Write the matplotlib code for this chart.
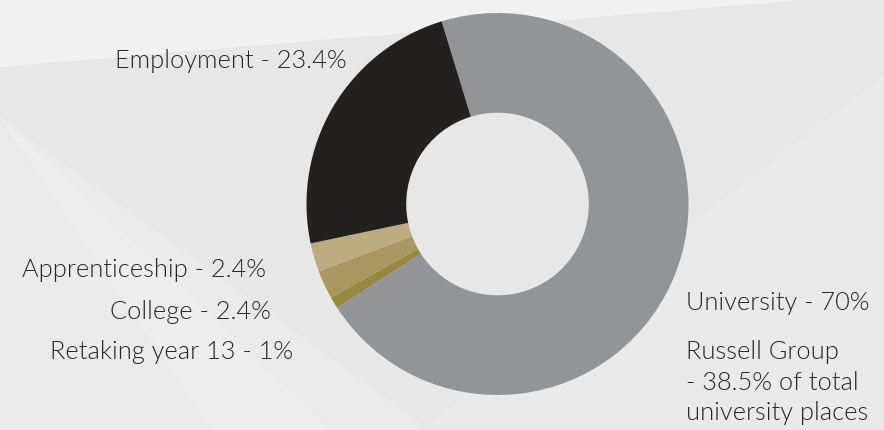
import matplotlib.pyplot as plt
from matplotlib.patches import Polygon

# ── Data ─────────────────────────────────────────────────────────────────────
categories = ['University', 'Retaking year 13', 'College', 'Apprenticeship', 'Employment']
shares = [70, 1, 2.4, 2.4, 23.4]
colors = ['#939496', '#978840', '#a99762', '#bbac80', '#22211f']

labels_left = ['Employment - 23.4%', 'Apprenticeship - 2.4%',
               'College - 2.4%', 'Retaking year 13 - 1%']
labels_right = ['University - 70%',
                'Russell Group\n- 38.5% of total\nuniversity places']

W, H = 884, 430
plt.rcParams['font.family'] = ['Lato', 'DejaVu Sans']

fig = plt.figure(figsize=(W / 100, H / 100), dpi=100)
fig.patch.set_facecolor('#e6e7e6')

# background facets (pixel coordinates)
bg = fig.add_axes([0, 0, 1, 1], zorder=0)
bg.set_xlim(0, W); bg.set_ylim(H, 0); bg.axis('off')
facets = [
    ([(0, 0), (W, 0), (800, 0), (0, 67)], '#f0f1f0'),
    ([(0, 117), (430, H), (0, H)], '#eaeaea'),
    ([(0, 117), (330, H), (213, H)], '#ededed'),
    ([(W, 75), (W, H), (420, H)], '#e8e9e8'),
]
for pts, c in facets:
    bg.add_patch(Polygon(pts, closed=True, facecolor=c, edgecolor='none'))

# donut: centre (497.5, 204) px, radius 191 px
cx, cy, r = 497.5, 204, 191
ax = fig.add_axes([(cx - r) / W, (H - cy - r) / H, 2 * r / W, 2 * r / H], zorder=1)
ax.patch.set_alpha(0)
ax.pie(shares, colors=colors, startangle=107, counterclock=False, radius=1,
       wedgeprops=dict(width=0.522, edgecolor='none', linewidth=0))
ax.set_xlim(-1, 1); ax.set_ylim(-1, 1)
ax.set_aspect('equal')

txt = dict(fontsize=18.3, color='#262626', fontweight=300, va='baseline')

def px(x, y):
    return x / W, 1 - y / H

left_pos = [(347, 67.7), (266, 277), (271, 319), (293, 359)]
for lab, (x, y) in zip(labels_left, left_pos):
    fig.text(*px(x, y), lab, ha='right', **txt)

fig.text(*px(686.5, 310), labels_right[0], ha='left', **txt)
fig.text(*px(686.5, 359), labels_right[1].split('\n')[0], ha='left', **txt)
fig.text(*px(686.5, 390), labels_right[1].split('\n')[1], ha='left', **txt)
fig.text(*px(686.5, 420), labels_right[1].split('\n')[2], ha='left', **txt)

plt.savefig('out.png', dpi=100, facecolor=fig.get_facecolor())
